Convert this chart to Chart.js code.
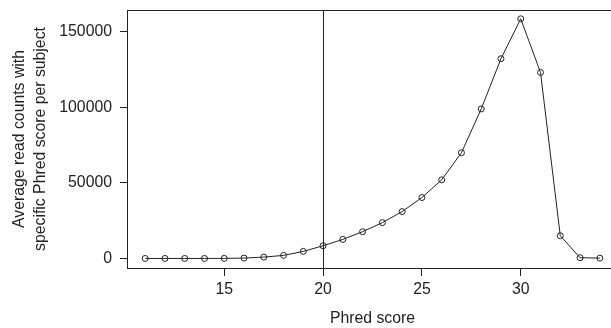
<!DOCTYPE html>
<html>
<head>
<meta charset="utf-8">
<script src="https://cdn.jsdelivr.net/npm/chart.js@4.4.0/dist/chart.umd.min.js"></script>
<style>
  html, body { margin: 0; padding: 0; background: #fff; overflow: hidden; }
  #wrap { width: 625px; height: 328px; }
</style>
</head>
<body>
<div id="wrap"><canvas id="myChart" width="625" height="328"></canvas></div>
<script>
  // Phred score vs average read counts per subject
  const phred = [11, 12, 13, 14, 15, 16, 17, 18, 19, 20, 21, 22, 23, 24, 25, 26, 27, 28, 29, 30, 31, 32, 33, 34];
  const counts = [0, 0, 0, 0, 50, 250, 900, 2000, 4650, 8400, 12600, 17700, 23700, 31000, 40300, 52000, 69900, 98900, 132100, 158500, 123000, 15000, 500, 200];
  const xTicks = [15, 20, 25, 30];
  const yTicks = [0, 50000, 100000, 150000];
  const cutoff = 20;

  const ink = '#222';
  const fontFam = '"Liberation Sans", Arial, Helvetica, sans-serif';

  const boxPlugin = {
    id: 'box',
    beforeDatasetsDraw(chart) {
      const { ctx, chartArea, scales } = chart;
      const x = Math.round(scales.x.getPixelForValue(cutoff)) + 0.5;
      ctx.save();
      ctx.strokeStyle = ink;
      ctx.lineWidth = 1;
      ctx.beginPath();
      ctx.moveTo(x, chartArea.top);
      ctx.lineTo(x, chartArea.bottom);
      ctx.stroke();
      ctx.restore();
    },
    afterDatasetsDraw(chart) {
      const { ctx, chartArea } = chart;
      ctx.save();
      ctx.strokeStyle = ink;
      ctx.lineWidth = 1;
      ctx.strokeRect(Math.round(chartArea.left) + 0.5, Math.round(chartArea.top) + 0.5,
        chartArea.right - chartArea.left, chartArea.bottom - chartArea.top);
      ctx.restore();
    }
  };

  const data = {
    datasets: [{
      data: phred.map((p, i) => ({ x: p, y: counts[i] })),
      borderColor: ink,
      borderWidth: 1,
      pointRadius: 3,
      pointBorderWidth: 1,
      pointBorderColor: ink,
      pointBackgroundColor: 'rgba(0,0,0,0)',
      tension: 0
    }]
  };

  const config = {
    type: 'line',
    data: data,
    plugins: [boxPlugin],
    options: {
      responsive: false,
      animation: false,
      layout: { padding: { top: 10, right: 7, left: 0, bottom: 0 } },
      plugins: { legend: { display: false }, tooltip: { enabled: false } },
      scales: {
        x: {
          type: 'linear',
          min: 10.08,
          max: 34.92,
          afterBuildTicks: s => { s.ticks = xTicks.map(v => ({ value: v })); },
          afterFit: s => { s.height = 60; s.paddingLeft = 0; s.paddingRight = 0; },
          border: { display: false },
          grid: { drawOnChartArea: false, tickLength: 8, color: ink, tickColor: ink },
          ticks: { color: ink, padding: 4, font: { family: fontFam, size: 15.8 }, maxRotation: 0 },
          title: {
            display: true, text: 'Phred score', color: ink,
            padding: { top: 0, bottom: 0 },
            font: { family: fontFam, size: 15.8, lineHeight: 1.2 }
          }
        },
        y: {
          min: -6320,
          max: 164320,
          afterBuildTicks: s => { s.ticks = yTicks.map(v => ({ value: v })); },
          afterFit: s => { s.width = 127; s.paddingTop = 0; s.paddingBottom = 0; },
          border: { display: false },
          grid: { drawOnChartArea: false, tickLength: 7, color: ink, tickColor: ink },
          ticks: { color: ink, padding: 8, font: { family: fontFam, size: 15.8 }, callback: v => String(v) },
          title: {
            display: true,
            text: ['Average read counts with', 'specific Phred score per subject'],
            color: ink,
            padding: { top: 9, bottom: 0 },
            font: { family: fontFam, size: 15.8, lineHeight: 1.33 }
          }
        }
      }
    }
  };

  const myChart = new Chart(document.getElementById('myChart'), config);
</script>
</body>
</html>
